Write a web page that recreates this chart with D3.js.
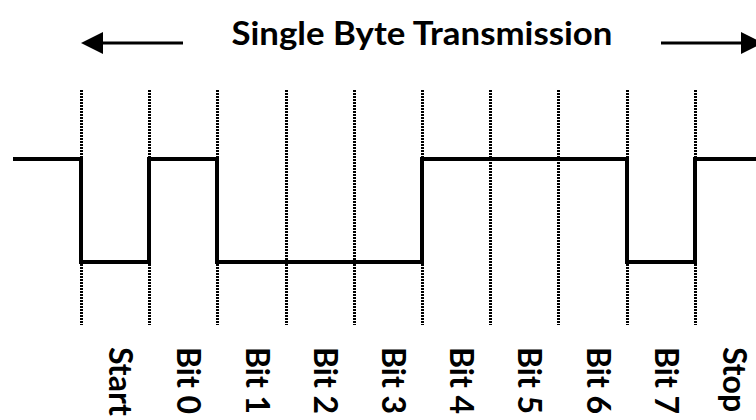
<!DOCTYPE html>
<html>
<head>
<meta charset="utf-8">
<script src="https://cdn.jsdelivr.net/npm/d3@7"></script>
<style>
    body { margin: 0; background: #fff; }
    svg { display: block; }
    .label { font-family: Lato, "Open Sans", sans-serif; font-weight: bold; fill: #000; }
</style>
</head>
<body>
<svg id="chart" width="756" height="420"></svg>
<script>
// One slot per frame bit, line level of each slot (1 = high, 0 = low)
var slot_labels = ["Start", "Bit 0", "Bit 1", "Bit 2", "Bit 3", "Bit 4", "Bit 5", "Bit 6", "Bit 7", "Stop"];
var slot_levels = [0, 1, 0, 0, 0, 1, 1, 1, 0, 1];
var idle_level = 1;
var title_text = "Single Byte Transmission";

draw_timing(d3.select("#chart"));

function draw_timing(svg) {
    var x = d3.scaleLinear().domain([0, 10]).range([81, 763]).interpolate(d3.interpolateRound);
    var y = d3.scaleLinear().domain([0, 1]).range([262, 159]);

    // Build the step signal: idle high, then each slot, then idle after stop
    var points = [[-1, idle_level]];
    slot_levels.forEach(function (level, i) {
        points.push([i, level]);
    });
    points.push([10.5, slot_levels[slot_levels.length - 1]]);

    var line = d3.line()
        .x(function (d) { return x(d[0]); })
        .y(function (d) { return y(d[1]); })
        .curve(d3.curveStepAfter);

    // Dotted slot boundaries (odd width, so sit them on the half pixel)
    svg.append("g")
        .selectAll("line")
        .data(d3.range(slot_labels.length))
        .enter().append("line")
        .attr("x1", function (d) { return x(d) + 0.5; })
        .attr("x2", function (d) { return x(d) + 0.5; })
        .attr("y1", 90)
        .attr("y2", 325)
        .attr("stroke", "#000")
        .attr("stroke-width", 3)
        .attr("stroke-dasharray", "2,1");

    svg.append("path")
        .datum(points)
        .attr("d", line)
        .attr("fill", "none")
        .attr("stroke", "#000")
        .attr("stroke-width", 4)
        .attr("stroke-linejoin", "miter");

    // Slot labels, rotated to read top to bottom
    svg.append("g")
        .selectAll("text")
        .data(slot_labels)
        .enter().append("text")
        .attr("class", "label")
        .attr("font-size", 32)
        .attr("transform", function (d, i) {
            return "translate(" + (x(i + 0.5) - 6) + ",347) rotate(90)";
        })
        .text(function (d) { return d; });

    // Title with arrows either side
    svg.append("text")
        .attr("class", "label")
        .attr("font-size", 32)
        .attr("x", x(5))
        .attr("y", 45)
        .attr("text-anchor", "middle")
        .attr("textLength", 381)
        .attr("lengthAdjust", "spacingAndGlyphs")
        .text(title_text);

    draw_arrow(svg, x(1.5), x(0), 43);
    draw_arrow(svg, x(8.5), x(10), 43);
}

function draw_arrow(svg, from_x, to_x, at_y) {
    var dir = to_x > from_x ? 1 : -1;
    var head = 22;
    svg.append("line")
        .attr("x1", from_x)
        .attr("x2", to_x - dir * head)
        .attr("y1", at_y)
        .attr("y2", at_y)
        .attr("stroke", "#000")
        .attr("stroke-width", 3);
    svg.append("path")
        .attr("d", d3.line()([
            [to_x, at_y],
            [to_x - dir * head, at_y - 11],
            [to_x - dir * head, at_y + 11]
        ]) + "Z")
        .attr("fill", "#000");
}
</script>
</body>
</html>
